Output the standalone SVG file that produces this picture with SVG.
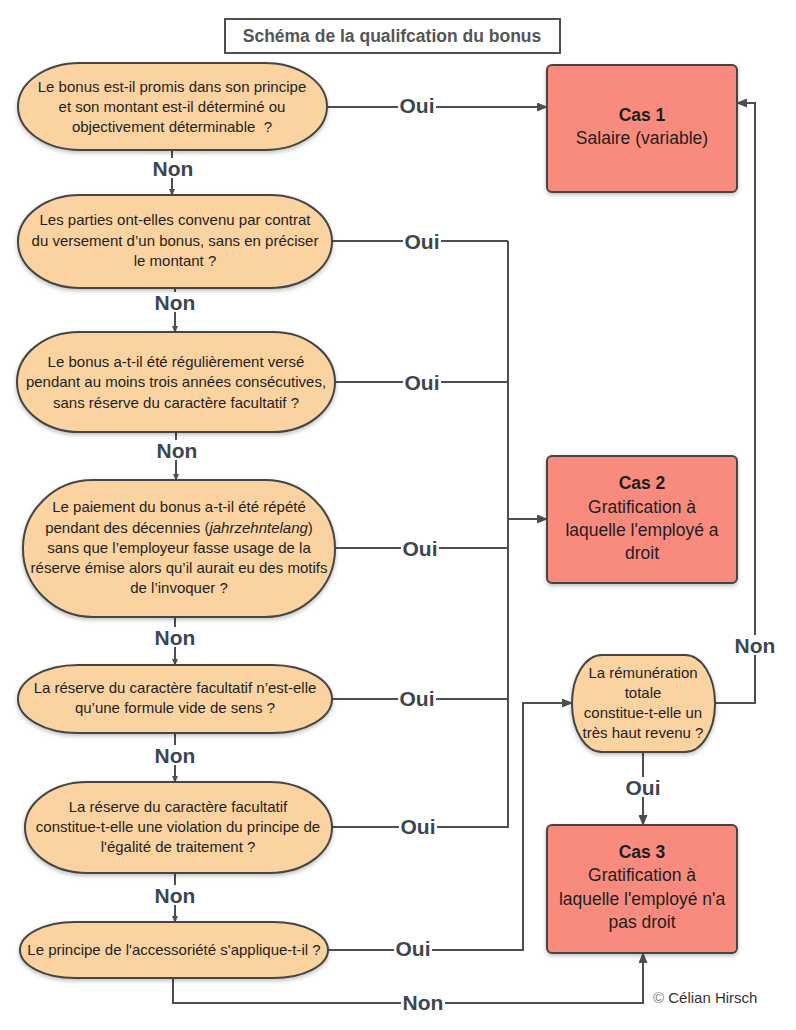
<svg xmlns="http://www.w3.org/2000/svg" width="796" height="1030" viewBox="0 0 796 1030">
<defs>
<filter id="sh" x="-10%" y="-10%" width="120%" height="130%">
<feDropShadow dx="0" dy="2" stdDeviation="2" flood-color="#000" flood-opacity="0.25"/>
</filter>
<marker id="a" markerWidth="11" markerHeight="9" refX="10" refY="4.5" orient="auto" markerUnits="userSpaceOnUse">
<path d="M0,0 L11,4.5 L0,9 z" fill="#4a4f55"/>
</marker>
<marker id="s" markerWidth="7" markerHeight="6" refX="6" refY="3" orient="auto" markerUnits="userSpaceOnUse">
<path d="M0,0 L7,3 L0,6 z" fill="#4a4f55"/>
</marker>
</defs>
<style>
.q{fill:#fbd3a0;stroke:#444;stroke-width:2;filter:url(#sh)}
.c{fill:#f98b7e;stroke:#444;stroke-width:2;filter:url(#sh)}
.t{font-family:"Liberation Sans",Arial,sans-serif;font-size:15px;fill:#1e1e1e;text-anchor:middle}
.ct{font-family:"Liberation Sans",Arial,sans-serif;font-size:17.5px;fill:#1e1e1e;text-anchor:middle}
.b{font-weight:bold}
.l{fill:none;stroke:#4a4f55;stroke-width:2}
.bg{fill:#fff}
.lb{font-family:"Liberation Sans",Arial,sans-serif;font-size:21px;font-weight:bold;fill:#3d4650;text-anchor:middle}
</style>
<rect width="796" height="1030" fill="#fff"/>
<g id="title">
<rect x="225" y="19" width="335" height="34" fill="#fff" stroke="#4a4f55" stroke-width="2"/>
<text x="392" y="42" font-family="Liberation Sans,Arial,sans-serif" font-size="17.5" font-weight="bold" fill="#555" text-anchor="middle">Schéma de la qualifcation du bonus</text>
</g>
<g id="connectors">
<path class="l" d="M172,150 V195" marker-end="url(#s)"/>
<path class="l" d="M175,288 V332" marker-end="url(#s)"/>
<path class="l" d="M176,432 V480" marker-end="url(#s)"/>
<path class="l" d="M175,617 V665" marker-end="url(#s)"/>
<path class="l" d="M175,733 V782" marker-end="url(#s)"/>
<path class="l" d="M175,873 V922" marker-end="url(#s)"/>
<path class="l" d="M327,107 H547" marker-end="url(#a)"/>
<path class="l" d="M332,241 H508"/>
<path class="l" d="M335,382 H508"/>
<path class="l" d="M335,548 H508"/>
<path class="l" d="M332,699 H508"/>
<path class="l" d="M332,827 H508 V241"/>
<path class="l" d="M508,519 H547" marker-end="url(#a)"/>
<path class="l" d="M328,950 H523 V703 H572" marker-end="url(#a)"/>
<path class="l" d="M715,703 H755 V103 H737" marker-end="url(#a)"/>
<path class="l" d="M643,752 V825" marker-end="url(#a)"/>
<path class="l" d="M173,978 V1003 H643 V953" marker-end="url(#a)"/>
<rect class="bg" x="151" y="158" width="44" height="20"/><text class="lb" x="173" y="176">Non</text>
<rect class="bg" x="153" y="292" width="44" height="20"/><text class="lb" x="175" y="310">Non</text>
<rect class="bg" x="155" y="440" width="44" height="20"/><text class="lb" x="177" y="458">Non</text>
<rect class="bg" x="153" y="627" width="44" height="20"/><text class="lb" x="175" y="645">Non</text>
<rect class="bg" x="153" y="745" width="44" height="20"/><text class="lb" x="175" y="763">Non</text>
<rect class="bg" x="153" y="885" width="44" height="20"/><text class="lb" x="175" y="903">Non</text>
<rect class="bg" x="398" y="95" width="38" height="20"/><text class="lb" x="417" y="113">Oui</text>
<rect class="bg" x="403" y="231" width="38" height="20"/><text class="lb" x="422" y="249">Oui</text>
<rect class="bg" x="403" y="372" width="38" height="20"/><text class="lb" x="422" y="390">Oui</text>
<rect class="bg" x="401" y="538" width="38" height="20"/><text class="lb" x="420" y="556">Oui</text>
<rect class="bg" x="398" y="688" width="38" height="20"/><text class="lb" x="417" y="706">Oui</text>
<rect class="bg" x="399" y="816" width="38" height="20"/><text class="lb" x="418" y="834">Oui</text>
<rect class="bg" x="394" y="938" width="38" height="20"/><text class="lb" x="413" y="956">Oui</text>
<rect class="bg" x="401" y="992" width="44" height="20"/><text class="lb" x="423" y="1010">Non</text>
<rect class="bg" x="733" y="635" width="44" height="20"/><text class="lb" x="755" y="653">Non</text>
<rect class="bg" x="624" y="777" width="38" height="20"/><text class="lb" x="643" y="795">Oui</text>
</g>
<g id="q1">
<rect class="q" x="18" y="63" width="309" height="87" rx="62" ry="43.5"/>
<text class="t" x="172"><tspan x="172" y="92">Le bonus est-il promis dans son principe</tspan><tspan x="172" y="112">et son montant est-il déterminé ou</tspan><tspan x="172" y="132">objectivement déterminable&#160; ?</tspan></text>
</g>
<g id="q2">
<rect class="q" x="18" y="195" width="314" height="93" rx="62" ry="46.5"/>
<text class="t"><tspan x="175" y="225">Les parties ont-elles convenu par contrat</tspan><tspan x="175" y="246">du versement d’un bonus, sans en préciser</tspan><tspan x="175" y="266">le montant ?</tspan></text>
</g>
<g id="q3">
<rect class="q" x="17" y="332" width="318" height="100" rx="62" ry="50"/>
<text class="t"><tspan x="176" y="367">Le bonus a-t-il été régulièrement versé</tspan><tspan x="176" y="387">pendant au moins trois années consécutives,</tspan><tspan x="176" y="408">sans réserve du caractère facultatif ?</tspan></text>
</g>
<g id="q4">
<rect class="q" x="23" y="480" width="312" height="137" rx="70" ry="68"/>
<text class="t"><tspan x="179" y="512">Le paiement du bonus a-t-il été répété</tspan><tspan x="179" y="533">pendant des décennies (<tspan font-style="italic">jahrzehntelang</tspan>)</tspan><tspan x="179" y="553">sans que l’employeur fasse usage de la</tspan><tspan x="179" y="573">réserve émise alors qu’il aurait eu des motifs</tspan><tspan x="179" y="593">de l’invoquer ?</tspan></text>
</g>
<g id="q5">
<rect class="q" x="18" y="665" width="314" height="68" rx="60" ry="34"/>
<text class="t"><tspan x="175" y="693">La réserve du caractère facultatif n’est-elle</tspan><tspan x="175" y="713">qu’une formule vide de sens ?</tspan></text>
</g>
<g id="q6">
<rect class="q" x="25" y="782" width="307" height="91" rx="62" ry="45.5"/>
<text class="t"><tspan x="178" y="812">La réserve du caractère facultatif</tspan><tspan x="178" y="832">constitue-t-elle une violation du principe de</tspan><tspan x="178" y="852">l'égalité de traitement ?</tspan></text>
</g>
<g id="q7">
<rect class="q" x="20" y="922" width="308" height="56" rx="55" ry="28"/>
<text class="t" x="174" y="955">Le principe de l'accessoriété s'applique-t-il ?</text>
</g>
<g id="q8">
<rect class="q" x="572" y="655" width="143" height="97" rx="30" ry="48"/>
<text class="t"><tspan x="643" y="678">La rémunération</tspan><tspan x="643" y="698">totale</tspan><tspan x="643" y="718">constitue-t-elle un</tspan><tspan x="643" y="738">très haut revenu ?</tspan></text>
</g>
<g id="cas1">
<rect class="c" x="547" y="65" width="190" height="127" rx="5"/>
<text class="ct"><tspan class="b" x="642" y="121">Cas 1</tspan><tspan x="642" y="144">Salaire (variable)</tspan></text>
</g>
<g id="cas2">
<rect class="c" x="547" y="456" width="190" height="127" rx="5"/>
<text class="ct"><tspan class="b" x="642" y="489">Cas 2</tspan><tspan x="642" y="513">Gratification à</tspan><tspan x="642" y="536">laquelle l'employé a</tspan><tspan x="642" y="559">droit</tspan></text>
</g>
<g id="cas3">
<rect class="c" x="547" y="825" width="190" height="128" rx="5"/>
<text class="ct"><tspan class="b" x="642" y="858">Cas 3</tspan><tspan x="642" y="881">Gratification à</tspan><tspan x="642" y="905">laquelle l'employé n'a</tspan><tspan x="642" y="928">pas droit</tspan></text>
</g>
<g id="credit">
<text x="653" y="1003" font-family="Liberation Sans,Arial,sans-serif" font-size="15" fill="#333"><tspan fill="#777">©</tspan> Célian Hirsch</text>
</g>
</svg>
